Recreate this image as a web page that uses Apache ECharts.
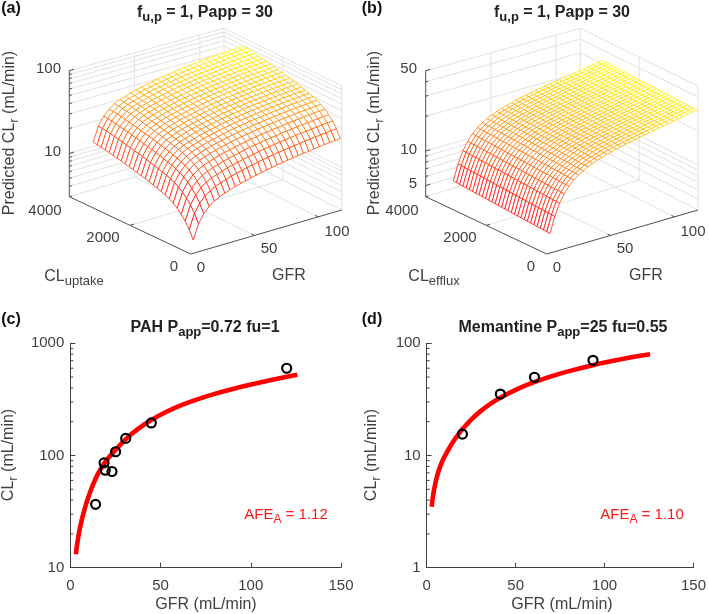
<!DOCTYPE html>
<html>
<head>
<meta charset="utf-8">
<style>html,body{margin:0;padding:0;background:#fff}#main{width:709px;height:614px}</style>
<script src="https://cdn.jsdelivr.net/npm/echarts@6/dist/echarts.min.js"></script>
</head>
<body>
<div id="main"></div>
<script>
var pahPoints = [[14,36.7],[18.7,86],[19.4,74],[23.1,72],[25.1,108],[30.7,142],[44.9,195],[119.9,599]];
var pahCurve = [[3.1,13.2],[3.6,15.5],[4.3,18.2],[5.2,22],[6.3,26.5],[7.5,31.5],[9,38],[10.5,45],[12,52],[14,62],[16.4,74],[19,86],[21.8,98],[24.8,111],[30.3,138],[37,170],[44.2,204],[53,244],[62.6,285],[72,323],[81,358],[90,392],[99.6,427],[112,473],[125.8,525]];
var memPoints = [[20.1,15.5],[41.4,35.3],[60.6,49.8],[93.5,70.5]];
var memCurve = [[2.8,3.5],[3.4,4.2],[4.2,5],[5.2,5.95],[6.3,6.95],[7.6,8],[9.2,9.2],[11.1,10.5],[13.3,12.1],[15.7,13.9],[18,15.6],[20.3,17.3],[25,20.9],[30.5,25],[36,29],[41.6,32.9],[50,38.5],[60,44.8],[70,50.7],[78.5,55.6],[93.3,63.8],[105,69.8],[115,75],[125.6,80]];
var minorTicksC = [20,30,40,50,60,70,80,90,200,300,400,500,600,700,800,900];
var minorTicksD = [2,3,4,5,6,7,8,9,20,30,40,50,60,70,80,90];

var gfrA = [2,6.1,10.2,14.4,18.5,22.6,26.7,30.8,35,39.1,43.2,47.3,51.4,55.6,59.7,63.8,67.9,72,76.2,80.3,84.4,88.5,92.6,96.8,100.9,105,109.1,113.2,117.4];
var clA = [0,132,264,396,528,660,792,924,1056,1188,1320,1452,1584,1716,1848,1980,2112,2244,2376,2508,2640,2772,2904,3036,3168,3300];
// log10 of predicted CLr, one row per CL value
var surfA = [
[.637,.815,.92,.99,1.04,1.072,1.098,1.12,1.142,1.16,1.176,1.192,1.208,1.222,1.235,1.248,1.26,1.27,1.28,1.29,1.299,1.308,1.317,1.325,1.333,1.34,1.347,1.354,1.36],
[.742,.92,1.024,1.094,1.144,1.175,1.201,1.222,1.244,1.262,1.277,1.293,1.308,1.322,1.335,1.347,1.359,1.369,1.378,1.388,1.397,1.405,1.414,1.421,1.429,1.436,1.442,1.449,1.455],
[.822,.999,1.104,1.173,1.222,1.254,1.279,1.3,1.322,1.339,1.354,1.37,1.385,1.398,1.411,1.423,1.434,1.444,1.453,1.462,1.471,1.479,1.487,1.495,1.502,1.508,1.515,1.521,1.527],
[.882,1.059,1.163,1.232,1.282,1.313,1.338,1.359,1.38,1.397,1.412,1.427,1.443,1.456,1.468,1.48,1.491,1.5,1.509,1.518,1.527,1.535,1.543,1.55,1.557,1.563,1.569,1.575,1.581],
[.932,1.109,1.213,1.282,1.331,1.362,1.387,1.408,1.429,1.446,1.46,1.475,1.49,1.503,1.515,1.527,1.538,1.547,1.556,1.565,1.573,1.581,1.589,1.596,1.603,1.609,1.615,1.621,1.626],
[.972,1.149,1.253,1.321,1.37,1.401,1.426,1.447,1.467,1.484,1.499,1.514,1.529,1.541,1.553,1.565,1.576,1.585,1.593,1.602,1.61,1.618,1.626,1.632,1.639,1.645,1.651,1.657,1.662],
[1.002,1.179,1.282,1.351,1.4,1.43,1.455,1.476,1.497,1.513,1.528,1.543,1.557,1.57,1.582,1.594,1.604,1.613,1.622,1.63,1.638,1.646,1.653,1.66,1.667,1.672,1.678,1.684,1.689],
[1.025,1.202,1.305,1.374,1.422,1.453,1.478,1.498,1.519,1.535,1.55,1.565,1.579,1.592,1.604,1.615,1.626,1.634,1.643,1.652,1.659,1.667,1.675,1.681,1.688,1.693,1.699,1.705,1.709],
[1.045,1.222,1.325,1.394,1.442,1.473,1.497,1.518,1.538,1.555,1.569,1.584,1.598,1.611,1.623,1.634,1.645,1.653,1.662,1.67,1.678,1.685,1.693,1.699,1.706,1.711,1.717,1.723,1.727],
[1.062,1.238,1.342,1.41,1.459,1.489,1.514,1.534,1.555,1.571,1.586,1.6,1.615,1.627,1.639,1.65,1.661,1.669,1.678,1.686,1.694,1.701,1.709,1.715,1.722,1.727,1.733,1.738,1.743],
[1.078,1.254,1.358,1.426,1.475,1.505,1.53,1.55,1.57,1.587,1.601,1.616,1.63,1.643,1.654,1.665,1.676,1.684,1.693,1.701,1.709,1.716,1.723,1.73,1.736,1.742,1.747,1.752,1.757],
[1.093,1.269,1.373,1.441,1.489,1.52,1.544,1.565,1.585,1.601,1.616,1.63,1.644,1.657,1.668,1.68,1.69,1.698,1.707,1.715,1.722,1.73,1.737,1.744,1.75,1.755,1.761,1.766,1.77],
[1.107,1.283,1.387,1.455,1.503,1.534,1.558,1.578,1.599,1.615,1.629,1.644,1.658,1.67,1.681,1.693,1.703,1.711,1.72,1.728,1.735,1.743,1.75,1.756,1.763,1.768,1.773,1.779,1.783],
[1.121,1.297,1.401,1.469,1.517,1.547,1.572,1.592,1.612,1.628,1.643,1.657,1.671,1.684,1.695,1.706,1.716,1.725,1.733,1.741,1.748,1.756,1.763,1.769,1.776,1.781,1.786,1.791,1.796],
[1.134,1.31,1.413,1.482,1.53,1.56,1.584,1.605,1.625,1.641,1.655,1.669,1.684,1.696,1.707,1.718,1.729,1.737,1.745,1.753,1.76,1.768,1.775,1.781,1.787,1.793,1.798,1.803,1.807],
[1.147,1.323,1.426,1.495,1.543,1.573,1.597,1.617,1.637,1.654,1.668,1.682,1.696,1.708,1.72,1.731,1.741,1.749,1.757,1.765,1.773,1.78,1.787,1.793,1.799,1.804,1.81,1.815,1.819],
[1.159,1.335,1.438,1.506,1.555,1.585,1.609,1.629,1.649,1.665,1.679,1.693,1.708,1.72,1.731,1.742,1.752,1.76,1.768,1.777,1.784,1.791,1.798,1.804,1.81,1.815,1.821,1.826,1.83],
[1.171,1.347,1.45,1.518,1.566,1.596,1.621,1.641,1.661,1.677,1.691,1.705,1.719,1.731,1.742,1.753,1.763,1.772,1.78,1.788,1.795,1.802,1.809,1.815,1.821,1.826,1.831,1.836,1.841],
[1.183,1.359,1.462,1.53,1.578,1.608,1.632,1.652,1.672,1.688,1.702,1.717,1.731,1.743,1.754,1.765,1.775,1.783,1.791,1.799,1.806,1.813,1.82,1.826,1.832,1.837,1.842,1.847,1.851],
[1.194,1.37,1.473,1.541,1.589,1.619,1.643,1.663,1.683,1.699,1.713,1.727,1.741,1.753,1.764,1.775,1.785,1.793,1.801,1.809,1.816,1.823,1.83,1.836,1.842,1.847,1.852,1.857,1.861],
[1.205,1.381,1.484,1.552,1.6,1.63,1.654,1.674,1.694,1.71,1.724,1.738,1.752,1.764,1.775,1.786,1.796,1.804,1.811,1.819,1.826,1.833,1.84,1.846,1.852,1.857,1.862,1.867,1.871],
[1.215,1.391,1.494,1.562,1.61,1.64,1.664,1.684,1.703,1.719,1.733,1.747,1.761,1.773,1.784,1.795,1.805,1.813,1.821,1.829,1.836,1.843,1.85,1.855,1.861,1.866,1.871,1.876,1.88],
[1.225,1.401,1.504,1.572,1.62,1.65,1.673,1.693,1.713,1.729,1.743,1.757,1.771,1.783,1.794,1.805,1.814,1.822,1.83,1.838,1.845,1.852,1.859,1.865,1.871,1.876,1.88,1.885,1.889],
[1.234,1.41,1.513,1.581,1.628,1.658,1.682,1.702,1.722,1.738,1.752,1.766,1.779,1.791,1.802,1.813,1.823,1.831,1.839,1.847,1.853,1.86,1.867,1.873,1.879,1.884,1.889,1.894,1.897],
[1.242,1.418,1.521,1.589,1.636,1.666,1.69,1.71,1.73,1.746,1.759,1.773,1.787,1.799,1.81,1.821,1.83,1.838,1.846,1.854,1.861,1.868,1.874,1.88,1.886,1.891,1.896,1.901,1.905],
[1.25,1.426,1.529,1.596,1.644,1.674,1.698,1.718,1.737,1.753,1.767,1.781,1.795,1.807,1.817,1.828,1.838,1.846,1.854,1.861,1.868,1.875,1.882,1.888,1.893,1.898,1.903,1.908,1.912]
];
var gfrB = [2.6,6.3,10,13.7,17.4,21.2,24.9,28.6,32.3,36,39.7,43.4,47.1,50.8,54.5,58.3,62,65.7,69.4,73.1,76.8,80.5,84.2,87.9,91.6,95.4,99.1,102.8,106.5,110.2,113.9,117.6];
var clB = [0,107,213,320,427,533,640,747,853,960,1067,1173,1280,1387,1493,1600,1707,1813,1920,2027,2133,2240,2347,2453,2560,2667,2773,2880,2987,3093,3200];
var surfB = [
[.773,.91,1.015,1.085,1.14,1.183,1.215,1.24,1.262,1.281,1.297,1.311,1.324,1.336,1.347,1.357,1.367,1.376,1.385,1.394,1.402,1.41,1.418,1.426,1.434,1.442,1.45,1.458,1.466,1.474,1.482,1.49],
[.775,.912,1.017,1.087,1.142,1.185,1.217,1.242,1.264,1.282,1.298,1.312,1.325,1.337,1.348,1.358,1.368,1.377,1.386,1.395,1.403,1.411,1.419,1.427,1.435,1.443,1.451,1.459,1.467,1.475,1.483,1.491],
[.777,.914,1.019,1.089,1.144,1.187,1.218,1.243,1.265,1.284,1.3,1.314,1.327,1.339,1.35,1.36,1.37,1.379,1.388,1.397,1.405,1.412,1.42,1.428,1.436,1.444,1.452,1.46,1.468,1.476,1.484,1.492],
[.779,.916,1.021,1.091,1.145,1.188,1.22,1.245,1.267,1.286,1.302,1.316,1.329,1.341,1.351,1.361,1.371,1.38,1.389,1.398,1.406,1.414,1.422,1.43,1.437,1.445,1.453,1.461,1.469,1.477,1.485,1.493],
[.781,.918,1.023,1.092,1.147,1.19,1.222,1.247,1.269,1.288,1.303,1.317,1.33,1.342,1.353,1.363,1.373,1.381,1.39,1.399,1.407,1.415,1.423,1.431,1.439,1.446,1.454,1.462,1.47,1.478,1.486,1.494],
[.783,.92,1.024,1.094,1.149,1.192,1.224,1.249,1.27,1.289,1.305,1.319,1.332,1.344,1.354,1.364,1.374,1.383,1.392,1.401,1.408,1.416,1.424,1.432,1.44,1.448,1.455,1.463,1.471,1.479,1.487,1.495],
[.785,.921,1.026,1.096,1.151,1.194,1.225,1.25,1.272,1.291,1.307,1.32,1.333,1.345,1.356,1.366,1.375,1.384,1.393,1.402,1.41,1.417,1.425,1.433,1.441,1.449,1.456,1.464,1.472,1.48,1.488,1.496],
[.787,.923,1.028,1.098,1.153,1.195,1.227,1.252,1.274,1.292,1.308,1.322,1.335,1.347,1.357,1.367,1.377,1.386,1.394,1.403,1.411,1.419,1.427,1.434,1.442,1.45,1.458,1.466,1.473,1.481,1.489,1.497],
[.788,.925,1.03,1.1,1.154,1.197,1.229,1.254,1.275,1.294,1.31,1.324,1.336,1.348,1.359,1.368,1.378,1.387,1.396,1.404,1.412,1.42,1.428,1.435,1.443,1.451,1.459,1.466,1.474,1.482,1.49,1.497],
[.79,.927,1.032,1.101,1.156,1.199,1.231,1.255,1.277,1.296,1.311,1.325,1.338,1.35,1.36,1.37,1.38,1.388,1.397,1.406,1.413,1.421,1.429,1.437,1.444,1.452,1.46,1.467,1.475,1.483,1.49,1.498],
[.792,.929,1.034,1.103,1.158,1.201,1.232,1.257,1.279,1.297,1.313,1.327,1.339,1.351,1.362,1.371,1.381,1.39,1.398,1.407,1.415,1.422,1.43,1.438,1.445,1.453,1.461,1.468,1.476,1.484,1.491,1.499],
[.794,.931,1.036,1.105,1.16,1.202,1.234,1.259,1.28,1.299,1.315,1.328,1.341,1.352,1.363,1.373,1.382,1.391,1.4,1.408,1.416,1.424,1.431,1.439,1.446,1.454,1.462,1.469,1.477,1.485,1.492,1.5],
[.796,.933,1.037,1.107,1.162,1.204,1.236,1.26,1.282,1.301,1.316,1.33,1.342,1.354,1.365,1.374,1.384,1.392,1.401,1.41,1.417,1.425,1.432,1.44,1.448,1.455,1.463,1.47,1.478,1.486,1.493,1.501],
[.798,.935,1.039,1.109,1.163,1.206,1.238,1.262,1.284,1.302,1.318,1.331,1.344,1.355,1.366,1.376,1.385,1.394,1.402,1.411,1.418,1.426,1.434,1.441,1.449,1.456,1.464,1.471,1.479,1.487,1.495,1.502],
[.8,.937,1.041,1.111,1.165,1.208,1.239,1.264,1.285,1.304,1.319,1.333,1.345,1.357,1.367,1.377,1.387,1.395,1.404,1.412,1.42,1.427,1.435,1.442,1.45,1.457,1.465,1.472,1.48,1.488,1.495,1.503],
[.802,.939,1.043,1.113,1.167,1.21,1.241,1.266,1.287,1.306,1.321,1.335,1.347,1.359,1.369,1.379,1.388,1.397,1.405,1.414,1.421,1.429,1.436,1.444,1.451,1.459,1.466,1.474,1.481,1.489,1.496,1.504],
[.804,.94,1.045,1.114,1.169,1.211,1.243,1.267,1.289,1.307,1.323,1.336,1.349,1.36,1.37,1.38,1.389,1.398,1.406,1.415,1.422,1.43,1.437,1.445,1.452,1.46,1.467,1.475,1.482,1.489,1.497,1.504],
[.806,.942,1.047,1.116,1.171,1.213,1.245,1.269,1.29,1.309,1.324,1.338,1.35,1.361,1.372,1.381,1.391,1.399,1.408,1.416,1.423,1.431,1.438,1.446,1.453,1.461,1.468,1.475,1.483,1.49,1.498,1.505],
[.808,.944,1.049,1.118,1.172,1.215,1.246,1.271,1.292,1.31,1.326,1.339,1.352,1.363,1.373,1.383,1.392,1.401,1.409,1.417,1.425,1.432,1.44,1.447,1.454,1.462,1.469,1.477,1.484,1.491,1.499,1.506],
[.81,.946,1.05,1.12,1.174,1.217,1.248,1.272,1.294,1.312,1.327,1.341,1.353,1.364,1.375,1.384,1.394,1.402,1.41,1.419,1.426,1.433,1.441,1.448,1.455,1.463,1.47,1.478,1.485,1.492,1.5,1.507],
[.812,.948,1.052,1.122,1.176,1.218,1.25,1.274,1.295,1.314,1.329,1.342,1.355,1.366,1.376,1.386,1.395,1.403,1.412,1.42,1.427,1.435,1.442,1.449,1.457,1.464,1.471,1.479,1.486,1.493,1.501,1.508],
[.814,.95,1.054,1.123,1.178,1.22,1.251,1.276,1.297,1.315,1.331,1.344,1.356,1.367,1.378,1.387,1.396,1.405,1.413,1.421,1.429,1.436,1.443,1.45,1.458,1.465,1.472,1.48,1.487,1.494,1.502,1.509],
[.816,.952,1.056,1.125,1.18,1.222,1.253,1.277,1.299,1.317,1.332,1.345,1.358,1.369,1.379,1.388,1.398,1.406,1.414,1.423,1.43,1.437,1.444,1.452,1.459,1.466,1.473,1.481,1.488,1.495,1.502,1.51],
[.817,.954,1.058,1.127,1.181,1.224,1.255,1.279,1.3,1.319,1.334,1.347,1.359,1.37,1.381,1.39,1.399,1.407,1.416,1.424,1.431,1.438,1.446,1.453,1.46,1.467,1.474,1.482,1.489,1.496,1.503,1.511],
[.819,.956,1.06,1.129,1.183,1.225,1.257,1.281,1.302,1.32,1.335,1.349,1.361,1.372,1.382,1.391,1.401,1.409,1.417,1.425,1.432,1.44,1.447,1.454,1.461,1.468,1.476,1.483,1.49,1.497,1.504,1.512],
[.821,.957,1.062,1.131,1.185,1.227,1.258,1.282,1.304,1.322,1.337,1.35,1.362,1.373,1.384,1.393,1.402,1.41,1.418,1.427,1.434,1.441,1.448,1.455,1.462,1.47,1.477,1.484,1.491,1.498,1.505,1.513],
[.823,.959,1.064,1.133,1.187,1.229,1.26,1.284,1.305,1.323,1.339,1.352,1.364,1.375,1.385,1.394,1.403,1.411,1.42,1.428,1.435,1.442,1.449,1.456,1.463,1.471,1.478,1.485,1.492,1.499,1.506,1.513],
[.825,.961,1.065,1.135,1.189,1.231,1.262,1.286,1.307,1.325,1.34,1.353,1.365,1.376,1.387,1.396,1.405,1.413,1.421,1.429,1.436,1.443,1.45,1.457,1.465,1.472,1.479,1.486,1.493,1.5,1.507,1.514],
[.827,.963,1.067,1.136,1.19,1.233,1.264,1.288,1.309,1.327,1.342,1.355,1.367,1.378,1.388,1.397,1.406,1.414,1.422,1.43,1.437,1.445,1.452,1.459,1.466,1.473,1.48,1.487,1.494,1.501,1.508,1.515],
[.829,.965,1.069,1.138,1.192,1.234,1.265,1.289,1.31,1.328,1.343,1.356,1.369,1.38,1.39,1.399,1.408,1.416,1.424,1.432,1.439,1.446,1.453,1.46,1.467,1.474,1.481,1.488,1.495,1.502,1.509,1.516],
[.831,.967,1.071,1.14,1.194,1.236,1.267,1.291,1.312,1.33,1.345,1.358,1.37,1.381,1.391,1.4,1.409,1.417,1.425,1.433,1.44,1.447,1.454,1.461,1.468,1.475,1.482,1.489,1.496,1.503,1.51,1.517]
];

var boxA = {front:[190.7,254,125],left:[69.3,196.7,126],right:[341.7,210,124],back:[224,150,121.7],gMax:118.5,cMax:4000,zMin:3,zMax:100,
	zTicks:[3,4,5,6,7,8,9,10,20,30,40,50,60,70,80,90,100],zMajor:[10,100]};
var boxB = {front:[546.7,254,125],left:[425.7,196.7,126],right:[698,210,124],back:[580.3,150,121.7],gMax:118.5,cMax:4000,zMin:4,zMax:50,
	zTicks:[4,5,6,7,8,9,10,20,30,40,50],zMajor:[5,10,50]};

// parallel view of the 3d box: floor position from the four corners, then height from log z
function project(box,g,c,logZ){
	var u=g/box.gMax, v=c/box.cMax, p=[0,0,0];
	for(var k=0;k<3;k++){
		p[k]=box.front[k]*(1-u)*(1-v)+box.right[k]*u*(1-v)+box.left[k]*(1-u)*v+box.back[k]*u*v;
	}
	var t=(logZ-Math.log10(box.zMin))/(Math.log10(box.zMax)-Math.log10(box.zMin));
	return [p[0],p[1]-p[2]*t];
}
function gridLines(box){
	var out=[], lo=Math.log10(box.zMin), hi=Math.log10(box.zMax), gM=box.gMax, cM=box.cMax;
	function seg(a,b){out.push([a[0],a[1],b[0],b[1]]);}
	box.zTicks.forEach(function(z){
		var lz=Math.log10(z);
		seg(project(box,0,cM,lz),project(box,gM,cM,lz));
		seg(project(box,gM,cM,lz),project(box,gM,0,lz));
	});
	[50,100,gM].forEach(function(g){
		seg(project(box,g,cM,lo),project(box,g,cM,hi));
		if(g<gM){seg(project(box,g,0,lo),project(box,g,cM,lo));}
	});
	[0,2000].forEach(function(c){
		seg(project(box,gM,c,lo),project(box,gM,c,hi));
		if(c>0){seg(project(box,0,c,lo),project(box,gM,c,lo));}
	});
	return out;
}
function axisLines(box){
	var out=[], lo=Math.log10(box.zMin), hi=Math.log10(box.zMax), gM=box.gMax, cM=box.cMax;
	function seg(a,b){out.push([a[0],a[1],b[0],b[1]]);}
	seg(project(box,0,cM,lo),project(box,0,cM,hi));
	seg(project(box,0,cM,lo),project(box,0,0,lo));
	seg(project(box,0,0,lo),project(box,gM,0,lo));
	box.zTicks.forEach(function(z){
		var lz=Math.log10(z), len=box.zMajor.indexOf(z)>=0?3.5:2;
		seg(project(box,0,cM,lz),project(box,len,cM,lz));
	});
	[50,100].forEach(function(g){seg(project(box,g,0,lo),project(box,g,100,lo));});
	seg(project(box,0,2000,lo),project(box,3,2000,lo));
	return out;
}
// cells go back to front so the white faces hide the walls behind them
function meshCells(box,gfr,cl,surf){
	var out=[], lo=Infinity, hi=-Infinity;
	surf.forEach(function(r){r.forEach(function(v){lo=Math.min(lo,v);hi=Math.max(hi,v);});});
	lo=Math.pow(10,lo);hi=Math.pow(10,hi);
	for(var j=cl.length-2;j>=0;j--){
		for(var i=gfr.length-2;i>=0;i--){
			var a=project(box,gfr[i],cl[j],surf[j][i]), b=project(box,gfr[i+1],cl[j],surf[j][i+1]);
			var c=project(box,gfr[i+1],cl[j+1],surf[j+1][i+1]), d=project(box,gfr[i],cl[j+1],surf[j+1][i]);
			var t=(Math.pow(10,surf[j][i])-lo)/(hi-lo);
			out.push([a[0],a[1],b[0],b[1],c[0],c[1],d[0],d[1],t]);
		}
	}
	return out;
}
function renderSeg(color,width){
	return function(params,api){
		var p1=api.coord([api.value(0),api.value(1)]), p2=api.coord([api.value(2),api.value(3)]);
		return {type:'line',shape:{x1:p1[0],y1:p1[1],x2:p2[0],y2:p2[1]},style:{stroke:color,lineWidth:width}};
	};
}
function renderCell(params,api){
	var pts=[];
	for(var k=0;k<4;k++){pts.push(api.coord([api.value(2*k),api.value(2*k+1)]));}
	var g=Math.round(255*Math.pow(api.value(8),.8));
	return {type:'polygon',shape:{points:pts},style:{fill:'#fff',stroke:'rgba(255,'+g+',0,.75)',lineWidth:1}};
}
function renderMinor(){
	return function(params,api){
		var p=api.coord([0,api.value(1)]);
		return {type:'line',shape:{x1:p[0],y1:p[1],x2:p[0]+3,y2:p[1]},style:{stroke:'#404040',lineWidth:1}};
	};
}
var textColor='#404040', redText='#f21a1a', boldText='#222', fontName='"Liberation Sans",Arial,sans-serif';
var rich={
	m:{fontSize:16,fontFamily:fontName,fill:textColor},
	s:{fontSize:13,fontFamily:fontName,fill:textColor,padding:[9,0,0,0]},
	r:{fontSize:15,fontFamily:fontName,fill:redText},
	rs:{fontSize:12,fontFamily:fontName,fill:redText,padding:[9,0,0,0]},
	b:{fontSize:16,fontWeight:'bold',fontFamily:fontName,fill:boldText},
	bs:{fontSize:13,fontWeight:'bold',fontFamily:fontName,fill:boldText,padding:[9,0,0,0]}
};
function label(x,y,text,align,size,rot){
	var el={type:'text',x:x,y:y,z:10,style:{text:text,align:align||'center',verticalAlign:'middle',rich:rich,
		font:(size||15)+'px '+fontName,fill:textColor}};
	if(rot){el.rotation=Math.PI/2;}
	return el;
}
function bold(x,y,text){
	return {type:'text',x:x,y:y,z:10,style:{text:text,align:'center',verticalAlign:'middle',rich:rich,
		font:'bold 16px '+fontName,fill:'#111'}};
}
var texts=[
	bold(11,9,'(a)'),bold(372,9,'(b)'),bold(11,320,'(c)'),bold(372,320,'(d)'),
	bold(205,13,'{b|f}{bs|u,p}{b| = 1, Papp = 30}'),bold(562,13,'{b|f}{bs|u,p}{b| = 1, Papp = 30}'),
	bold(205,328,'{b|PAH P}{bs|app}{b|=0.72 fu=1}'),bold(563,328,'{b|Memantine P}{bs|app}{b|=25 fu=0.55}'),
	label(61,69,'100','right'),label(61,152,'10','right'),
	label(45,211,'4000'),label(103,238,'2000'),label(174,267,'0'),label(201,268,'0'),label(269,249,'50'),label(337,232,'100'),
	label(74,277,'{m|CL}{s|uptake}'),label(289,276,'{m|GFR}'),label(10,133,'{m|Predicted CL}{s|r}{m| (mL/min)}','center',15,true),
	label(417,69,'50','right'),label(417,150,'10','right'),label(417,184,'5','right'),
	label(402,211,'4000'),label(460,238,'2000'),label(531,267,'0'),label(557,268,'0'),label(625,249,'50'),label(693,232,'100'),
	label(434,277,'{m|CL}{s|efflux}'),label(646,276,'{m|GFR}'),label(375,133,'{m|Predicted CL}{s|r}{m| (mL/min)}','center',15,true),
	label(206,605,'{m|GFR (mL/min)}'),label(562,605,'{m|GFR (mL/min)}'),
	label(9,455,'{m|CL}{s|r}{m| (mL/min)}','center',15,true),label(372,455,'{m|CL}{s|r}{m| (mL/min)}','center',15,true),
	label(286,515,'{r|AFE}{rs|A}{r| = 1.12}'),label(642,515,'{r|AFE}{rs|A}{r| = 1.10}')
];
function valAxis(idx,type,min,max,margin){
	return {type:type,gridIndex:idx,min:min,max:max,
		axisLine:{show:true,onZero:false,lineStyle:{color:textColor,width:1}},
		axisTick:{show:true,inside:true,length:5,lineStyle:{color:textColor}},
		splitLine:{show:false},
		axisLabel:{color:textColor,fontSize:15,fontFamily:fontName,margin:margin,formatter:function(v){return String(v);}}};
}
var hiddenX={type:'value',gridIndex:2,min:0,max:709,show:false};
var hiddenY={type:'value',gridIndex:2,min:0,max:614,inverse:true,show:false};
function seg3d(data,color,w,z,render){
	return {type:'custom',xAxisIndex:2,yAxisIndex:2,data:data,z:z,clip:false,silent:true,progressive:0,animation:false,renderItem:render||renderSeg(color,w)};
}
function curve(idx,data){
	return {type:'line',xAxisIndex:idx,yAxisIndex:idx,data:data,smooth:.2,showSymbol:false,z:3,lineStyle:{color:'#ff0000',width:4.6,cap:'butt'}};
}
function points(idx,data){
	return {type:'scatter',xAxisIndex:idx,yAxisIndex:idx,data:data,symbol:'circle',symbolSize:9,z:4,
		itemStyle:{color:'rgba(0,0,0,0)',borderColor:'#000',borderWidth:2.2,opacity:1}};
}
function minors(idx,list){
	return {type:'custom',xAxisIndex:idx,yAxisIndex:idx,data:list.map(function(v){return [0,v];}),z:2,silent:true,renderItem:renderMinor()};
}
var chart=echarts.init(document.getElementById('main'),null,{renderer:'canvas'});
chart.setOption({
	animation:false,
	backgroundColor:'#fff',
	grid:[
		{left:70.3,top:343.3,width:270.7,height:224.4},
		{left:426.7,top:343.3,width:270.6,height:224.4},
		{left:0,top:0,width:709,height:614}
	],
	xAxis:[
		Object.assign(valAxis(0,'value',0,150,11),{interval:50}),
		Object.assign(valAxis(1,'value',0,150,11),{interval:50}),
		hiddenX
	],
	yAxis:[valAxis(0,'log',10,1000,6),valAxis(1,'log',1,100,6),hiddenY],
	graphic:{elements:texts},
	series:[
		seg3d(gridLines(boxA),'#e2e2e2',1,1),
		seg3d(gridLines(boxB),'#e2e2e2',1,1),
		seg3d(meshCells(boxA,gfrA,clA,surfA),null,0,2,renderCell),
		seg3d(meshCells(boxB,gfrB,clB,surfB),null,0,2,renderCell),
		seg3d(axisLines(boxA),'#505050',1,3),
		seg3d(axisLines(boxB),'#505050',1,3),
		curve(0,pahCurve),curve(1,memCurve),
		points(0,pahPoints),points(1,memPoints),
		minors(0,minorTicksC),minors(1,minorTicksD)
	]
});
</script>
</body>
</html>
